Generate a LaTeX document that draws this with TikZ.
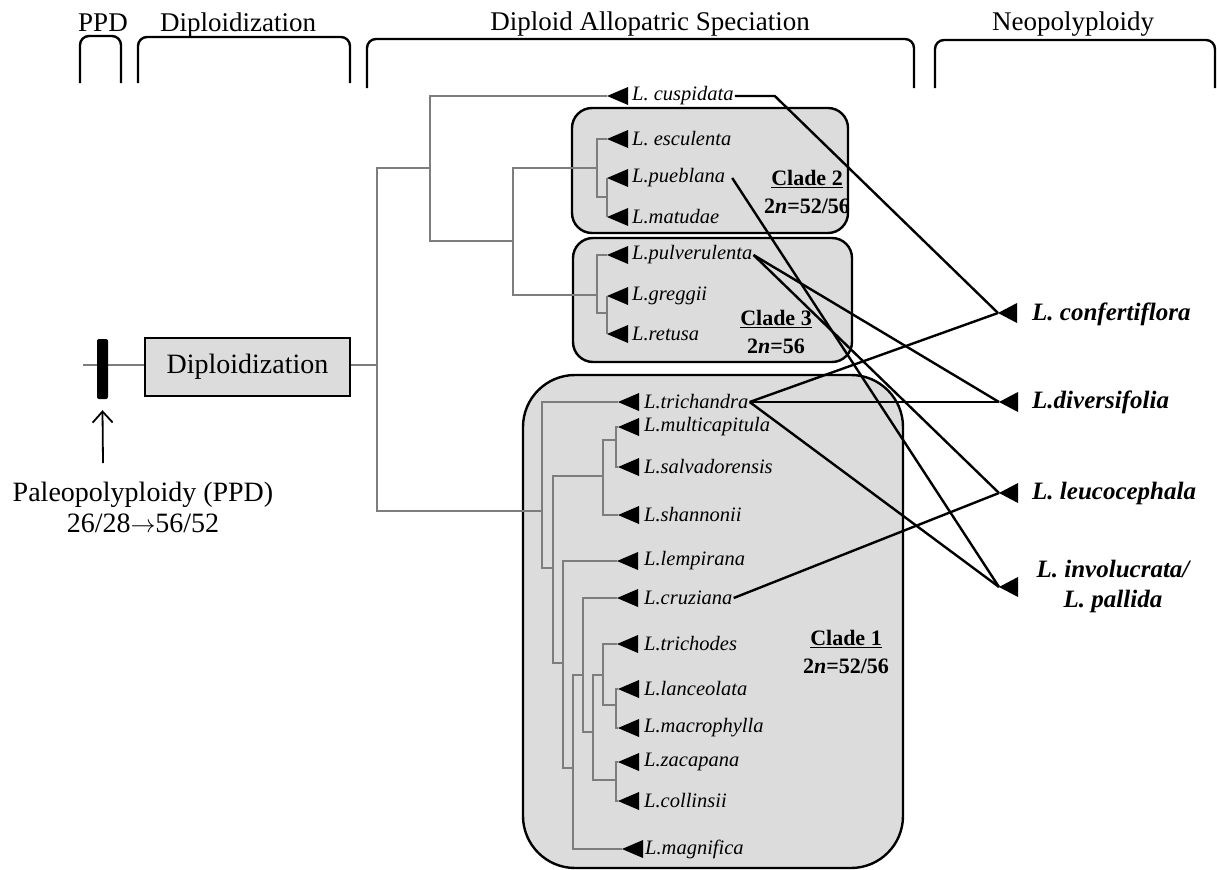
\documentclass[tikz,border=0pt]{standalone}
\usepackage{fontspec}
\setmainfont{Liberation Serif}
\usetikzlibrary{arrows.meta}
\definecolor{boxgray}{RGB}{220,220,220}
\definecolor{treegray}{RGB}{125,125,125}
\newcommand{\leaftri}[3]{% name, x, y (tip)
  \coordinate (#1) at (#2,#3);
  \fill (#1) -- ++(21,-9) -- ++(0,18) -- cycle;}
\newcommand{\bigtri}[3]{%
  \coordinate (#1) at (#2,#3);
  \fill (#1) -- ++(19,-10) -- ++(0,20) -- cycle;}
\begin{document}
\begin{tikzpicture}[x=1pt,y=-1pt,
  toplabel/.style={font=\fontsize{27}{30}\selectfont, anchor=base, inner sep=0pt},
  bracket/.style={line width=2.4pt, rounded corners=9pt},
  cladebox/.style={draw=black, line width=2.4pt, fill=boxgray},
  tree/.style={draw=treegray, line width=1.1pt},
  leaf/.style={font=\fontsize{20.5}{23}\selectfont\itshape, anchor=west, inner sep=1pt},
  neo/.style={font=\fontsize{25}{30}\selectfont\bfseries\itshape, anchor=west, inner sep=0pt, align=center},
  cladelab/.style={font=\fontsize{22}{28}\selectfont\bfseries, align=center, inner sep=0pt},
  conn/.style={line width=2.4pt, black},
  bigtext/.style={font=\fontsize{28}{31}\selectfont}
]
\useasboundingbox (0,0) rectangle (1218,870);

% ---- top brackets and labels
\node[toplabel] (tPPD) at (103,31) {PPD};
\node[toplabel] (tDip) at (238,31) {Diploidization};
\node[toplabel] (tDAS) at (650,30) {Diploid Allopatric Speciation};
\node[toplabel] (tNeo) at (1073,30) {Neopolyploidy};
\draw[bracket] (80,83) -- (80,36) -- (121,36) -- (121,83);
\draw[bracket] (138,83) -- (138,37) -- (350,37) -- (350,83);
\draw[bracket] (367,88) -- (367,39) -- (914,39) -- (914,88);
\draw[bracket] (935,88) -- (935,40) -- (1215,40) -- (1215,88);

% ---- clade boxes
\draw[cladebox, rounded corners=20pt] (572,108) rectangle (848,233);
\draw[cladebox, rounded corners=20pt] (573,238) rectangle (852,362);
\draw[cladebox, rounded corners=52pt] (523,375) rectangle (903,868);

% ---- left part
\coordinate (lstart) at (83,365);
\node[draw=black, line width=2.2pt, fill=boxgray, minimum width=205pt, minimum height=58pt, inner sep=0pt, bigtext] (dbox) at (247.5,367) {Diploidization};
\coordinate (root0) at (377,365);
\draw[tree] (lstart) -- (lstart -| dbox.west);
\draw[tree] (dbox.east |- root0) -- (root0);
\node[fill=black, minimum width=11pt, minimum height=60pt, inner sep=0pt, rounded corners=2pt] (bar) at (102.5,369) {};
\node[bigtext, align=center, inner sep=0pt] (ppd) at (143,507) {Paleopolyploidy (PPD)\\26/28{\fontsize{24}{24}\selectfont$\rightarrow$}56/52};
\coordinate (arrS) at (103,463);
\draw[line width=1.8pt, -{Straight Barb[length=11pt,width=20pt,line width=1.8pt]}] (arrS) -- ([yshift=-11pt]bar.south);

% ---- internal node coordinates
\coordinate (A) at (430,168);
\coordinate (B) at (513,241);
\coordinate (C2) at (597,168);
\coordinate (PM) at (607,197);
\coordinate (C3) at (597,295);
\coordinate (GR) at (607,313);
\coordinate (R1) at (542,511);
\coordinate (X) at (553,568);
\coordinate (M) at (603,476);
\coordinate (MS) at (616,440);
\coordinate (Y) at (563,663);
\coordinate (Z) at (573,768);
\coordinate (W) at (583,675);
\coordinate (V) at (593,732);
\coordinate (U) at (603,675);
\coordinate (LM) at (616,705);
\coordinate (ZC) at (616,780);

% ---- leaves (triangle tips)
\leaftri{tcusp}{607}{96}
\leaftri{tescu}{607}{139}
\leaftri{tpueb}{607}{178}
\leaftri{tmatu}{607}{217}
\leaftri{tpulv}{607}{255}
\leaftri{tgreg}{607}{296}
\leaftri{tretu}{607}{334}
\leaftri{ttric}{618}{402}
\leaftri{tmult}{618}{427}
\leaftri{tsalv}{618}{467}
\leaftri{tshan}{618}{515}
\leaftri{tlemp}{617}{561}
\leaftri{tcruz}{617}{598}
\leaftri{ttrio}{617}{644}
\leaftri{tlanc}{618}{689}
\leaftri{tmacr}{618}{728}
\leaftri{tzaca}{618}{762}
\leaftri{tcoll}{618}{801}
\leaftri{tmagn}{622}{849}

% ---- tree branches
\draw[tree] (root0) |- (A);
\draw[tree] (root0) |- (R1);
\draw[tree] (A) |- (tcusp);
\draw[tree] (A) |- (B);
\draw[tree] (B) |- (C2);
\draw[tree] (B) |- (C3);
\draw[tree] (C2) |- (tescu);
\draw[tree] (C2) |- (PM);
\draw[tree] (PM) |- (tpueb);
\draw[tree] (PM) |- (tmatu);
\draw[tree] (C3) |- (tpulv);
\draw[tree] (C3) |- (GR);
\draw[tree] (GR) |- (tgreg);
\draw[tree] (GR) |- (tretu);
\draw[tree] (R1) |- (ttric);
\draw[tree] (R1) |- (X);
\draw[tree] (X) |- (M);
\draw[tree] (X) |- (Y);
\draw[tree] (M) |- (MS);
\draw[tree] (M) |- (tshan);
\draw[tree] (MS) |- (tmult);
\draw[tree] (MS) |- (tsalv);
\draw[tree] (Y) |- (tlemp);
\draw[tree] (Y) |- (Z);
\draw[tree] (Z) |- (W);
\draw[tree] (Z) |- (tmagn);
\draw[tree] (W) |- (tcruz);
\draw[tree] (W) |- (V);
\draw[tree] (V) |- (U);
\draw[tree] (V) |- (ZC);
\draw[tree] (U) |- (ttrio);
\draw[tree] (U) |- (LM);
\draw[tree] (LM) |- (tlanc);
\draw[tree] (LM) |- (tmacr);
\draw[tree] (ZC) |- (tzaca);
\draw[tree] (ZC) |- (tcoll);

% ---- leaf labels
\node[leaf] (cusp) at ([xshift=24pt]tcusp) {L. cuspidata};
\node[leaf] (escu) at ([xshift=24pt]tescu) {L. esculenta};
\node[leaf] (pueb) at ([xshift=24pt]tpueb) {L.pueblana};
\node[leaf] (matu) at ([xshift=24pt]tmatu) {L.matudae};
\node[leaf] (pulv) at ([xshift=24pt]tpulv) {L.pulverulenta};
\node[leaf] (greg) at ([xshift=24pt]tgreg) {L.greggii};
\node[leaf] (retu) at ([xshift=24pt]tretu) {L.retusa};
\node[leaf] (tric) at ([xshift=25pt]ttric) {L.trichandra};
\node[leaf] (mult) at ([xshift=25pt]tmult) {L.multicapitula};
\node[leaf] (salv) at ([xshift=25pt]tsalv) {L.salvadorensis};
\node[leaf] (shan) at ([xshift=25pt]tshan) {L.shannonii};
\node[leaf] (lemp) at ([xshift=26pt]tlemp) {L.lempirana};
\node[leaf] (cruz) at ([xshift=26pt]tcruz) {L.cruziana};
\node[leaf] (trio) at ([xshift=26pt]ttrio) {L.trichodes};
\node[leaf] (lanc) at ([xshift=25pt]tlanc) {L.lanceolata};
\node[leaf] (macr) at ([xshift=25pt]tmacr) {L.macrophylla};
\node[leaf] (zaca) at ([xshift=25pt]tzaca) {L.zacapana};
\node[leaf] (coll) at ([xshift=25pt]tcoll) {L.collinsii};
\node[leaf] (magn) at ([xshift=22pt]tmagn) {L.magnifica};

% ---- clade labels
\node[cladelab] (cl2) at (807,192) {\underline{Clade 2}\\2\textit{n}=52/56};
\node[cladelab] (cl3) at (776,332) {\underline{Clade 3}\\2\textit{n}=56};
\node[cladelab] (cl1) at (846,652) {\underline{Clade 1}\\2\textit{n}=52/56};

% ---- neopolyploids
\bigtri{nconf}{998}{313}
\bigtri{ndive}{999}{402}
\bigtri{nleuc}{999}{493}
\bigtri{ninvo}{999}{587}
\node[neo] (conf) at (1032,314) {L. confertiflora};
\node[neo] (dive) at (1032,402) {L.diversifolia};
\node[neo] (leuc) at (1032,493) {L. leucocephala};
\node[neo, anchor=center] (invo) at (1113,586) {L. involucrata/\\L. pallida};

% ---- connectors
\draw[conn] (cusp.east) -- ++(40,0) -- (nconf);
\draw[conn] ([xshift=6pt]pueb.east) -- (ninvo);
\draw[conn] (pulv.east) -- (ndive);
\draw[conn] (pulv.east) -- (nleuc);
\draw[conn] (tric.east) -- (nconf);
\draw[conn] (tric.east) -- (ndive);
\draw[conn] (tric.east) -- (ninvo);
\draw[conn] (cruz.east) -- (nleuc);
\end{tikzpicture}
\end{document}
